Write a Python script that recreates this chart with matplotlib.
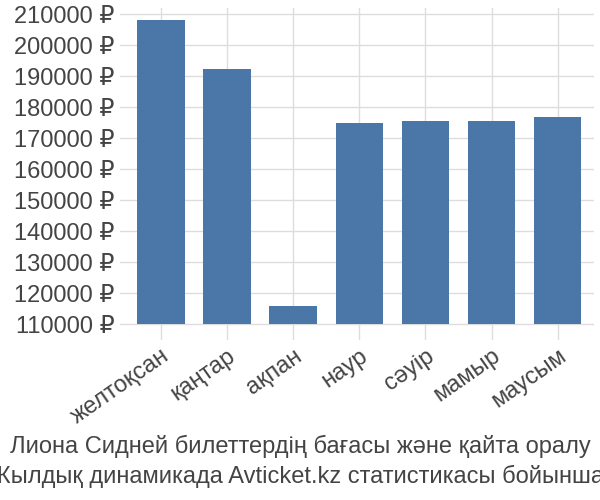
import matplotlib.pyplot as plt

plt.rcParams['font.family'] = ['Liberation Sans', 'DejaVu Sans']

months = ['желтоқсан', 'қаңтар', 'ақпан', 'наур', 'сәуір', 'мамыр', 'маусым']
prices = [208000, 192500, 116000, 175000, 175500, 175500, 177000]
ticks = list(range(110000, 210001, 10000))
base = 110000

fig = plt.figure(figsize=(6, 5), dpi=100)
ax = fig.add_axes([0.2, 0.32, 0.79, 0.664])

ax.bar(months, [p - base for p in prices], bottom=base, width=0.72, color='#4a76a8', zorder=2)
ax.set_ylim(105000, 212000)
ax.set_xlim(-0.62, 6.55)
ax.set_yticks(ticks)
ax.set_yticklabels([f'{t} ₽' for t in ticks], fontsize=17, color='#444444')
ax.tick_params(axis='x', labelsize=17, colors='#444444', length=0)
ax.tick_params(axis='y', length=0, pad=4)
plt.setp(ax.get_xticklabels(), rotation=35, ha='right', rotation_mode='anchor')
ax.grid(True, color='#dddddd', linewidth=1, zorder=0)
for s in ax.spines.values():
    s.set_visible(False)

fig.text(0.5, 0.095, 'Лиона Сидней билеттердің бағасы және қайта оралу', ha='center', fontsize=17, color='#444444')
fig.text(0.5, 0.035, 'Жылдық динамикада Avticket.kz статистикасы бойынша.', ha='center', fontsize=17, color='#444444')

fig.savefig('out.png')
